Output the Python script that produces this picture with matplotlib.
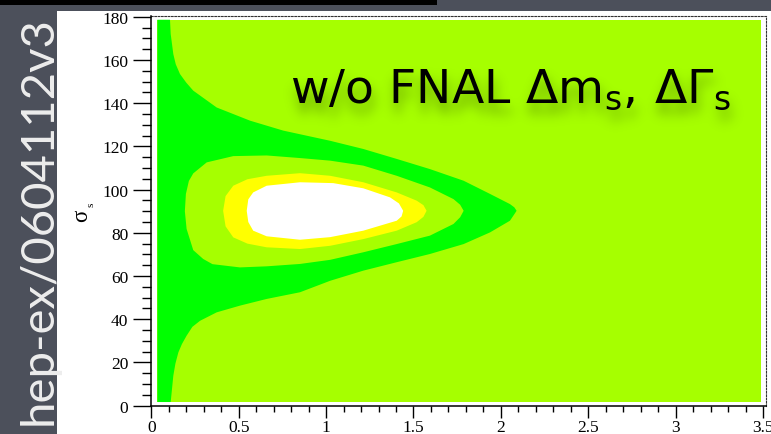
import numpy as np
import matplotlib
matplotlib.use("Agg")
import matplotlib.pyplot as plt
from matplotlib.patches import Rectangle
from matplotlib.ticker import MultipleLocator, FuncFormatter

# ---- data -------------------------------------------------------------
# extent of the filled 2D histogram (x parameter, sigma_s)
hist_x = [0.035, 3.49]
hist_y = [1.7, 178.6]

# outer edge of the green band (top of histogram -> tip -> bottom)
green_x = [0.107, 0.111, 0.126, 0.14, 0.164, 0.2, 0.24, 0.374, 0.565, 0.755, 1.023,
           1.213, 1.404, 1.594, 1.787, 1.938, 2.052, 2.077, 2.09,
           2.077, 2.052, 1.938, 1.787, 1.594, 1.404, 1.213, 1.023, 0.851, 0.66,
           0.507, 0.374, 0.279, 0.235, 0.202, 0.175, 0.155, 0.138, 0.126, 0.111]
green_y = [178.6, 172.0, 162.7, 158.0, 153.5, 149.5, 145.8, 138.0, 131.9, 127.3, 122.6,
           118.8, 114.2, 109.5, 104.1, 98.0, 93.3, 91.8, 90.2,
           88.6, 85.6, 80.2, 74.8, 70.2, 66.4, 62.5, 57.8, 52.5, 49.4,
           46.3, 43.2, 39.3, 36.5, 32.4, 28.5, 24.7, 19.5, 13.9, 1.7]

# inner edge of the green band (closed)
inner_x = [0.192, 0.198, 0.215, 0.24, 0.317, 0.469, 0.66, 0.851, 1.023, 1.213,
           1.404, 1.594, 1.729, 1.767, 1.787,
           1.767, 1.729, 1.594, 1.404, 1.213, 1.023, 0.851, 0.66, 0.507, 0.35,
           0.297, 0.24, 0.202]
inner_y = [90.0, 98.0, 104.0, 107.5, 112.6, 115.5, 115.8, 114.6, 113.4, 111.1,
           106.4, 101.0, 95.6, 93.0, 90.2,
           87.2, 84.1, 78.7, 74.8, 71.0, 67.5, 65.6, 64.5, 64.0, 65.5,
           67.9, 72.0, 81.8]

# yellow contour (closed)
yellow_x = [0.411, 0.425, 0.469, 0.55, 0.66, 0.851, 1.023, 1.213, 1.404, 1.518,
            1.557, 1.575, 1.557, 1.518, 1.404, 1.213, 1.023, 0.851, 0.66, 0.55,
            0.469, 0.425]
yellow_y = [90.2, 97.0, 101.8, 104.8, 106.4, 107.6, 106.4, 103.4, 98.7, 94.9,
            92.8, 90.2, 87.4, 84.9, 81.0, 77.1, 74.0, 72.5, 73.3, 75.0,
            77.9, 83.0]

# white contour (closed)
white_x = [0.546, 0.555, 0.583, 0.66, 0.851, 1.041, 1.213, 1.366, 1.417, 1.441,
           1.432, 1.404, 1.213, 1.023, 0.851, 0.66, 0.583, 0.555]
white_y = [90.2, 95.5, 98.7, 101.8, 103.4, 103.0, 100.6, 96.4, 93.6, 90.2,
           87.6, 85.6, 81.0, 78.0, 76.8, 78.4, 81.0, 85.0]

x_ticks = [0, 0.5, 1, 1.5, 2, 2.5, 3, 3.5]
y_ticks = [0, 20, 40, 60, 80, 100, 120, 140, 160, 180]

title_text = r"$\mathrm{w/o\ FNAL\ \Delta m_{s},\!\ \Delta\Gamma_{s}}$"
side_text = "hep-ex/0604112v3"

LIME = "#a6ff00"
GREEN = "#00ff00"
YELLOW = "#ffff00"
BG = "#4c505b"

W, H = 771, 435


class DropShadow:
    """agg filter: blurred, shifted copy of an artist's alpha channel."""

    def __init__(self, sigma, dx, dy, alpha, color):
        self.sigma, self.dx, self.dy = sigma, dx, dy
        self.alpha, self.color = alpha, color

    def __call__(self, im, dpi):
        pad = int(3 * self.sigma + max(abs(self.dx), abs(self.dy))) + 2
        a = np.pad(im[..., 3], pad)
        r = int(3 * self.sigma)
        k = np.exp(-0.5 * (np.arange(-r, r + 1) / self.sigma) ** 2)
        k /= k.sum()
        a = np.apply_along_axis(lambda m: np.convolve(m, k, mode="same"), 0, a)
        a = np.apply_along_axis(lambda m: np.convolve(m, k, mode="same"), 1, a)
        a = np.roll(a, self.dy, axis=0)
        a = np.roll(a, self.dx, axis=1)
        out = np.zeros(a.shape + (4,))
        out[..., :3] = matplotlib.colors.to_rgb(self.color)
        out[..., 3] = np.clip(a * self.alpha, 0, 1)
        return out, -pad, -pad


fig = plt.figure(figsize=(W / 100, H / 100), dpi=100, facecolor=BG)

# slide decorations: black strip on top, white panel holding the plot
fig.add_artist(Rectangle((0, 1 - 6 / H), 437 / W, 6 / H, transform=fig.transFigure,
                         facecolor="black", edgecolor="none", zorder=-2))
fig.add_artist(Rectangle((57 / W, 0), 1 - 57 / W, 1 - 12 / H, transform=fig.transFigure,
                         facecolor="white", edgecolor="none", zorder=-2))

ax = fig.add_axes([151.3 / W, (H - 406.7) / H, (766 - 151.3) / W, (406.7 - 17.3) / H])
ax.set_facecolor("white")
ax.set_xlim(0, 3.517)
ax.set_ylim(0, 180.2)

# filled contour levels
ax.fill([hist_x[0], hist_x[1], hist_x[1], hist_x[0]],
        [hist_y[0], hist_y[0], hist_y[1], hist_y[1]],
        color=LIME, lw=0, zorder=1)
ax.fill([hist_x[0]] + green_x + [hist_x[0]], [hist_y[1]] + green_y + [hist_y[0]],
        color=GREEN, lw=0, zorder=2)
ax.fill(inner_x, inner_y, color=LIME, lw=0, zorder=3)
ax.fill(yellow_x, yellow_y, color=YELLOW, lw=0, zorder=4)
ax.fill(white_x, white_y, color="white", lw=0, zorder=5)

# axes styling
for side in ("top", "right"):
    ax.spines[side].set_linestyle((0, (1.5, 1.5)))
    ax.spines[side].set_linewidth(0.8)
    ax.spines[side].set_color("#333333")
for side in ("left", "bottom"):
    ax.spines[side].set_linewidth(1.1)
    ax.spines[side].set_zorder(10)

ax.set_xticks(x_ticks)
ax.set_yticks(y_ticks)
ax.xaxis.set_minor_locator(MultipleLocator(0.1))
ax.yaxis.set_minor_locator(MultipleLocator(5))
fmt = FuncFormatter(lambda v, p: f"{v:g}")
ax.xaxis.set_major_formatter(fmt)
ax.yaxis.set_major_formatter(fmt)
ax.tick_params(axis="y", which="major", direction="out", length=13, width=1.0, pad=3.6)
ax.tick_params(axis="y", which="minor", direction="out", length=6.5, width=1.0)
ax.tick_params(axis="x", which="major", direction="out", length=8.6, width=1.0, pad=0.8)
ax.tick_params(axis="x", which="minor", direction="out", length=4.3, width=1.0)
ax.tick_params(top=False, right=False, which="both")
for lab in ax.get_xticklabels() + ax.get_yticklabels():
    lab.set_fontfamily("Liberation Serif")
    lab.set_fontsize(12.5)

# y axis title: sigma with subscript s
fig.text(81.5 / W, 1 - 216 / H, "σ", rotation=90, family="Liberation Serif",
         fontsize=16.5, ha="center", va="center")
fig.text(90.5 / W, 1 - 204.5 / H, "s", rotation=90, family="Liberation Serif",
         fontsize=8, ha="center", va="center")

# annotation with soft shadow
tx, ty = 290 / W, 1 - 103 / H
shadow = fig.text(tx, ty, title_text, fontsize=34, color="#1d3300",
                  ha="left", va="baseline", zorder=20)
shadow.set_agg_filter(DropShadow(sigma=6, dx=2, dy=10, alpha=0.5, color="#2c4a00"))
fig.text(tx, ty, title_text, fontsize=34, color="black", ha="left",
         va="baseline", zorder=21)

# vertical reference label on the slide margin
fig.text(52 / W, 10 / H, side_text, rotation=90, rotation_mode="anchor",
         ha="left", va="baseline", color="#ededed", fontsize=34, family="Lato")

fig.savefig("out.png", dpi=100, facecolor=BG)
